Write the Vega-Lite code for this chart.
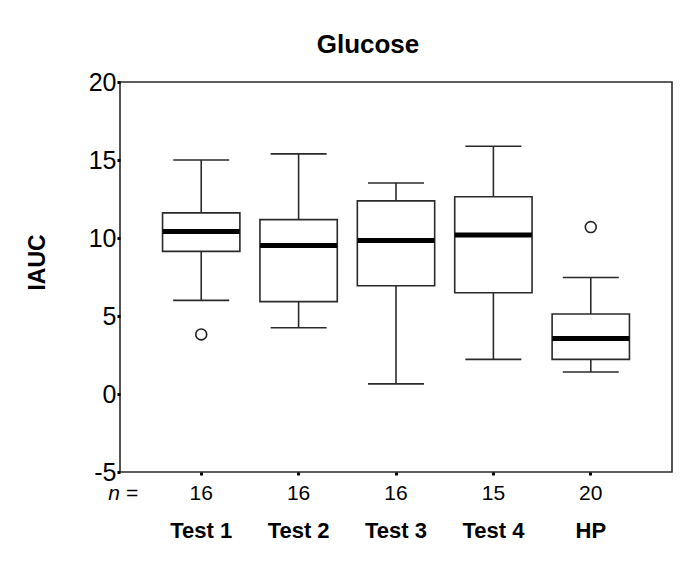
{
  "$schema": "https://vega.github.io/schema/vega-lite/v6.json",
  "autosize": {"type": "none"},
  "width": 552,
  "height": 390,
  "padding": {"left": 120, "top": 82, "right": 24, "bottom": 89},
  "background": "white",
  "title": {
    "text": "Glucose",
    "font": "Liberation Sans",
    "fontSize": 26,
    "fontWeight": "bold",
    "color": "black",
    "dx": -28,
    "offset": 12
  },
  "data": {
    "values": [
      {"cat": "Test 1", "n": 16, "lower": 6.0, "q1": 9.14, "median": 10.42, "q3": 11.61, "upper": 15.0},
      {"cat": "Test 2", "n": 16, "lower": 4.25, "q1": 5.92, "median": 9.52, "q3": 11.18, "upper": 15.39},
      {"cat": "Test 3", "n": 16, "lower": 0.65, "q1": 6.94, "median": 9.84, "q3": 12.38, "upper": 13.53},
      {"cat": "Test 4", "n": 15, "lower": 2.22, "q1": 6.49, "median": 10.2, "q3": 12.64, "upper": 15.88},
      {"cat": "HP", "n": 20, "lower": 1.41, "q1": 2.22, "median": 3.55, "q3": 5.13, "upper": 7.47}
    ]
  },
  "encoding": {
    "x": {
      "field": "cat",
      "type": "nominal",
      "sort": null,
      "scale": {"paddingInner": 0.206, "paddingOuter": 0.437},
      "axis": {
        "title": null,
        "domain": false,
        "grid": false,
        "tickColor": "black",
        "tickSize": 3,
        "tickWidth": 3,
        "labelAngle": 0,
        "labelFont": "Liberation Sans",
        "labelFontWeight": "bold",
        "labelFontSize": 22,
        "labelColor": "black",
        "labelBaseline": "middle",
        "labelPadding": 55
      }
    }
  },
  "layer": [
    {
      "mark": {"type": "rule", "color": "#2a2a2a", "strokeWidth": 1.6},
      "encoding": {
        "y": {
          "field": "lower",
          "type": "quantitative",
          "scale": {"domain": [-5, 20], "nice": false, "zero": false},
          "axis": {
            "title": "IAUC",
            "titleFont": "Liberation Sans",
            "titleFontWeight": "bold",
            "titleFontSize": 23,
            "titleColor": "black",
            "titleAngle": -90,
            "titleX": -83,
            "titleY": 180,
            "titleAlign": "center",
            "titleBaseline": "middle",
            "values": [-5, 0, 5, 10, 15, 20],
            "labelExpr": "'' + datum.value",
            "domain": false,
            "grid": false,
            "tickColor": "black",
            "tickSize": 3,
            "tickWidth": 3,
            "labelPadding": 1,
            "labelFont": "Liberation Sans Narrow, Liberation Sans",
            "labelFontSize": 25,
            "labelColor": "black"
          }
        },
        "y2": {"field": "upper"}
      }
    },
    {
      "mark": {"type": "tick", "color": "#2a2a2a", "opacity": 1, "size": 56, "thickness": 1.6},
      "encoding": {"y": {"field": "lower", "type": "quantitative"}}
    },
    {
      "mark": {"type": "tick", "color": "#2a2a2a", "opacity": 1, "size": 56, "thickness": 1.6},
      "encoding": {"y": {"field": "upper", "type": "quantitative"}}
    },
    {
      "mark": {"type": "bar", "fill": "white", "stroke": "#2a2a2a", "strokeWidth": 1.6, "opacity": 1},
      "encoding": {
        "y": {"field": "q1", "type": "quantitative"},
        "y2": {"field": "q3"}
      }
    },
    {
      "mark": {"type": "tick", "color": "black", "opacity": 1, "size": 77, "thickness": 5},
      "encoding": {"y": {"field": "median", "type": "quantitative"}}
    },
    {
      "data": {"values": [{"cat": "Test 1", "value": 3.82}, {"cat": "HP", "value": 10.7}]},
      "mark": {"type": "point", "shape": "circle", "size": 120, "filled": false, "opacity": 1, "stroke": "#222", "strokeWidth": 1.6, "fill": "white"},
      "encoding": {"y": {"field": "value", "type": "quantitative"}}
    },
    {
      "mark": {"type": "text", "font": "Liberation Sans Narrow, Liberation Sans", "fontSize": 21, "color": "black", "baseline": "middle"},
      "encoding": {
        "y": {"datum": -6.4},
        "text": {"field": "n", "type": "nominal"}
      }
    },
    {
      "data": {"values": [{"cat": "Test 1", "label": "n ="}]},
      "mark": {"type": "text", "font": "Liberation Sans Narrow, Liberation Sans", "fontSize": 21, "fontStyle": "italic", "color": "black", "baseline": "middle", "dx": -78},
      "encoding": {
        "y": {"datum": -6.4},
        "text": {"field": "label", "type": "nominal"}
      }
    }
  ],
  "config": {
    "view": {"stroke": "#2a2a2a", "strokeWidth": 1.6}
  }
}
